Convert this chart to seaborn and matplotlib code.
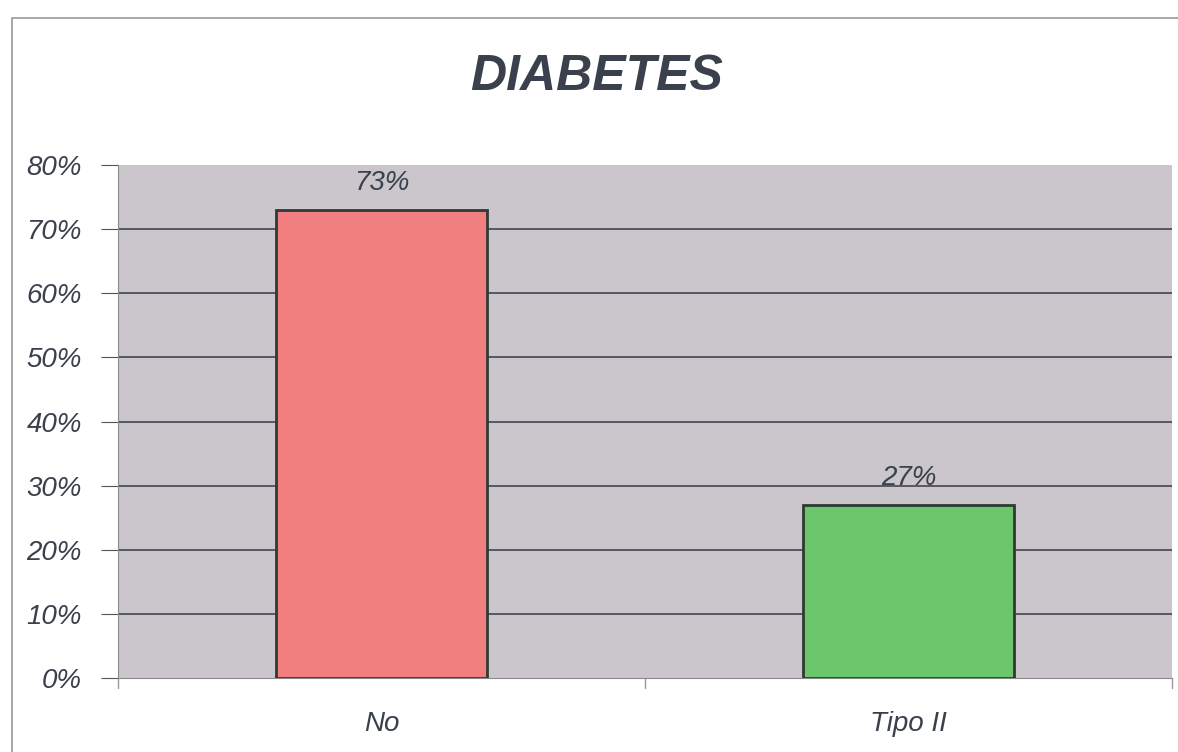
import matplotlib
matplotlib.use("Agg")
import matplotlib.pyplot as plt
import seaborn as sns
import pandas as pd
from matplotlib.patches import Rectangle
from matplotlib.ticker import MultipleLocator, PercentFormatter

categories = ["No", "Tipo II"]
values = [73, 27]
bar_colors = ["#f27f7f", "#6cc76c"]
title = "DIABETES"

sns.set_style("white")
plt.rcParams["font.family"] = ["Liberation Sans", "DejaVu Sans"]
text_color = "#3a414c"

df = pd.DataFrame({"tipo": categories, "pct": values})

fig = plt.figure(figsize=(11.78, 7.52), dpi=100)
ax = fig.add_axes([118 / 1178, 1 - 678 / 752, 1054 / 1178, 513 / 752])

sns.barplot(data=df, x="tipo", y="pct", hue="tipo", palette=bar_colors,
            saturation=1, width=0.4, edgecolor="#2f3a36", linewidth=2,
            legend=False, ax=ax, zorder=3)

ax.set_facecolor("#cac6cc")
ax.set_ylim(0, 80)
ax.set_xlim(-0.5, 1.5)
ax.yaxis.set_major_locator(MultipleLocator(10))
ax.yaxis.set_major_formatter(PercentFormatter(decimals=0))

# gridlines, none on the top edge
for g in range(10, 80, 10):
    ax.axhline(g, color="#3e4550", linewidth=1.2, zorder=1)

for s in ["top", "right"]:
    ax.spines[s].set_visible(False)
ax.spines["left"].set_color("#8a8a8a")
ax.spines["bottom"].set_color("#8a8a8a")

ax.tick_params(axis="y", left=True, length=12, color="#555555",
               labelsize=20, labelcolor=text_color, pad=14)
ax.tick_params(axis="x", bottom=False, labelsize=20, labelcolor=text_color, pad=20)
for lab in ax.get_yticklabels() + ax.get_xticklabels():
    lab.set_fontstyle("italic")

# category separator ticks on x axis
for xv in [-0.5, 0.5, 1.5]:
    ax.plot([xv, xv], [0, -1.6], color="#999999", lw=1, clip_on=False)

ax.set_xlabel("")
ax.set_ylabel("")

for i, v in enumerate(values):
    ax.text(i, v + 2.2, f"{v}%", ha="center", va="bottom", fontsize=20,
            style="italic", color=text_color)

fig.text(0.506, 1 - 77 / 752, title, ha="center", va="center",
         fontsize=36, fontweight="bold", style="italic", color=text_color)

fig.patches.append(Rectangle((12 / 1178, -0.01), 1.2, 1 - 18 / 752 + 0.01,
                             transform=fig.transFigure, fill=False,
                             edgecolor="#9a9a9a", linewidth=1.2))

fig.savefig("out.png", dpi=100, facecolor="white")
